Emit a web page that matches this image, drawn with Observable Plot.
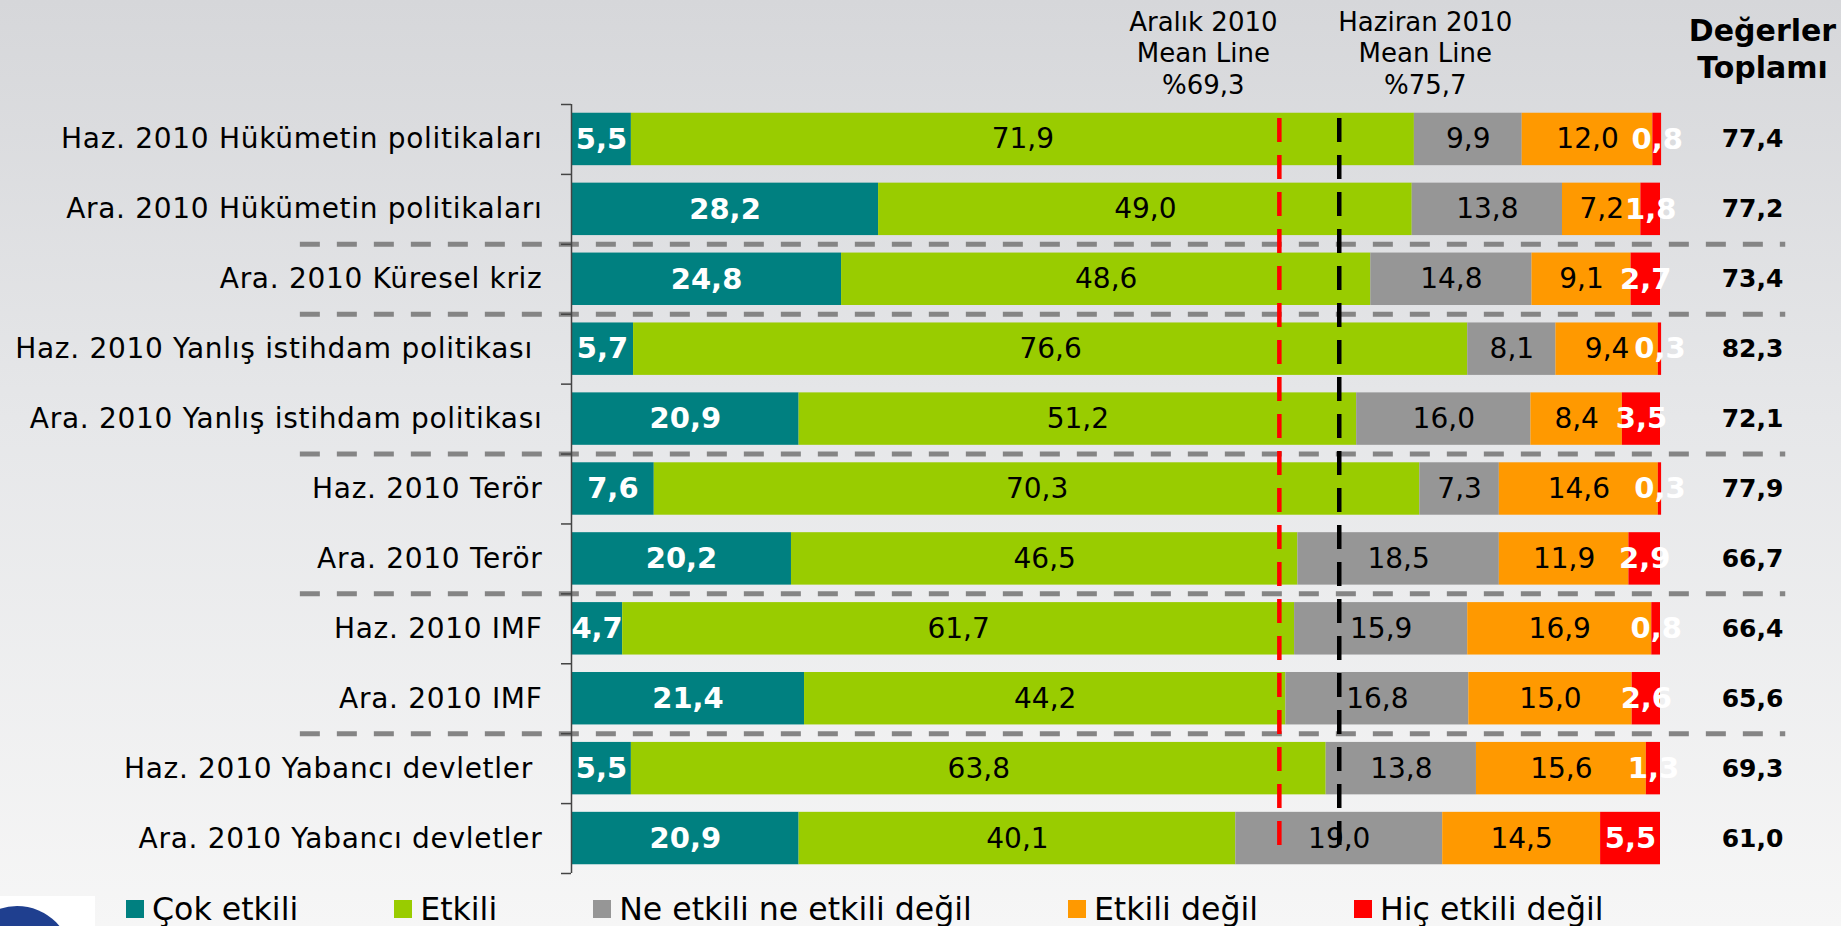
<!DOCTYPE html>
<html><head><meta charset="utf-8">
<script src="https://cdn.jsdelivr.net/npm/d3@7"></script>
<script src="https://cdn.jsdelivr.net/npm/@observablehq/plot@0.6"></script>
<style>
html,body{margin:0;padding:0;width:1841px;height:926px;overflow:hidden;}
body{background:linear-gradient(#d6d7da 0%, #e6e7e9 45%, #f6f6f6 100%);font-family:"DejaVu Sans",sans-serif;position:relative;}
#chart{position:absolute;left:0;top:0;}
#chart svg{background:transparent;}
g[aria-label="y-axis tick label"] text{letter-spacing:0.7px;}
g[aria-label="vals-normal"] text{letter-spacing:2.5px;}
g[aria-label="vals-bold"] text{letter-spacing:1.5px;}
#legend{position:absolute;left:126px;top:894px;font-size:31.6px;line-height:1;white-space:nowrap;color:#000;}
#legend .item{display:inline-block;margin-right:96px;}
#legend .sw{display:inline-block;width:18px;height:18px;margin-right:8px;position:relative;top:-2px;vertical-align:baseline;}
#logo{position:absolute;left:0;top:896px;width:95px;height:30px;background:#fff;overflow:hidden;}
#logo div{position:absolute;left:-38px;top:10px;width:110px;height:110px;border-radius:50%;background:#1f3f8f;}
</style>
</head><body>
<div id="chart"></div>
<div id="logo"><div></div></div>
<div id="legend"></div>
<script>
const categories = [
  "Haz. 2010 Hükümetin politikaları",
  "Ara. 2010 Hükümetin politikaları",
  "Ara. 2010 Küresel kriz",
  "Haz. 2010 Yanlış istihdam politikası\u00A0",
  "Ara. 2010 Yanlış istihdam politikası",
  "Haz. 2010 Terör",
  "Ara. 2010 Terör",
  "Haz. 2010 IMF",
  "Ara. 2010 IMF",
  "Haz. 2010 Yabancı devletler\u00A0",
  "Ara. 2010 Yabancı devletler"
];
const seriesNames = ["Çok etkili", "Etkili", "Ne etkili ne etkili değil", "Etkili değil", "Hiç etkili değil"];
const cokEtkili   = [5.5, 28.2, 24.8, 5.7, 20.9, 7.6, 20.2, 4.7, 21.4, 5.5, 20.9];
const etkili      = [71.9, 49.0, 48.6, 76.6, 51.2, 70.3, 46.5, 61.7, 44.2, 63.8, 40.1];
const neEtkili    = [9.9, 13.8, 14.8, 8.1, 16.0, 7.3, 18.5, 15.9, 16.8, 13.8, 19.0];
const etkiliDegil = [12.0, 7.2, 9.1, 9.4, 8.4, 14.6, 11.9, 16.9, 15.0, 15.6, 14.5];
const hicEtkili   = [0.8, 1.8, 2.7, 0.3, 3.5, 0.3, 2.9, 0.8, 2.6, 1.3, 5.5];
const totals      = [77.4, 77.2, 73.4, 82.3, 72.1, 77.9, 66.7, 66.4, 65.6, 69.3, 61.0];
const totalsHeader = "Değerler\nToplamı";
// mean lines as drawn on the bar scale, with their labels
const meanLineValues = [65.0, 70.5];
const meanLineLabels = ["Aralık 2010\nMean Line\n%69,3", "Haziran 2010\nMean Line\n%75,7"];
// group separators sit above these rows
const separatorBefore = [categories[2], categories[3], categories[5], categories[7], categories[9]];

const colors = ["#008080", "#99cc00", "#969696", "#ff9900", "#ff0000"];
const seriesValues = [cokEtkili, etkili, neEtkili, etkiliDegil, hicEtkili];

const data = [];
categories.forEach((c, i) => {
  seriesNames.forEach((s, j) => data.push({cat: c, series: s, value: seriesValues[j][i]}));
});
const fmt = v => v.toFixed(1).replace(".", ",");
const FONT = "DejaVu Sans";

const W = 1841, H = 926, mTop = 104, mBottom = 53;
const step = (H - mTop - mBottom) / categories.length;
const boldSeries = new Set([seriesNames[0], seriesNames[4]]);

const chart = Plot.plot({
  width: W, height: H,
  marginLeft: 571, marginRight: 181, marginTop: mTop, marginBottom: mBottom,
  style: {background: "transparent", color: "#000", fontFamily: FONT},
  x: {domain: [0, 100], axis: null},
  y: {domain: categories, paddingInner: 0.25, paddingOuter: 0.125, round: false, axis: null},
  color: {domain: seriesNames, range: colors},
  marks: [
    Plot.barX(data, {x: "value", y: "cat", fill: "series", z: "series", order: seriesNames}),
    // group separators
    Plot.ruleY(separatorBefore, {y: d => d, dy: -step / 2, x1: -24.9, x2: 111.5,
      stroke: "#858585", strokeWidth: 5, strokeDasharray: "20,17"}),
    // axis line and ticks at band boundaries
    Plot.ruleX([0], {stroke: "#444", strokeWidth: 1.5}),
    Plot.ruleY(categories, {y: d => d, dy: -step / 2, x1: -0.92, x2: 0, stroke: "#444", strokeWidth: 1.5}),
    Plot.ruleY([categories[categories.length - 1]], {y: d => d, dy: step / 2, x1: -0.92, x2: 0, stroke: "#444", strokeWidth: 1.5}),
    Plot.axisY({tickSize: 0, tickPadding: 29, fontSize: 28, fontFamily: FONT, fill: "#000", label: null}),
    // mean lines
    Plot.ruleX(meanLineValues, {x: d => d, stroke: (d, i) => i === 0 ? "#ff0000" : "#000000",
      strokeWidth: 4.5, strokeDasharray: "24,13", insetTop: 14, insetBottom: 28}),
    Plot.text([meanLineLabels[0]], {x: () => meanLineValues[0], text: d => d, frameAnchor: "top", lineAnchor: "top",
      dx: -76, dy: -96, lineHeight: 1.21, fontSize: 26, fontFamily: FONT, fill: "#000"}),
    Plot.text([meanLineLabels[1]], {x: () => meanLineValues[1], text: d => d, frameAnchor: "top", lineAnchor: "top",
      dx: 86, dy: -96, lineHeight: 1.21, fontSize: 26, fontFamily: FONT, fill: "#000"}),
    // value labels
    Plot.text(data, Plot.stackX({x: "value", y: "cat", z: "series", order: seriesNames,
      text: d => boldSeries.has(d.series) ? null : fmt(d.value),
      fontSize: 28, fontFamily: FONT, fill: "#000", ariaLabel: "vals-normal"})),
    Plot.text(data, Plot.stackX({x: "value", y: "cat", z: "series", order: seriesNames,
      text: d => boldSeries.has(d.series) ? fmt(d.value) : null,
      fontSize: 29, fontWeight: "bold", fontFamily: FONT, fill: "#fff", ariaLabel: "vals-bold"})),
    // totals column
    Plot.text(totals, {y: (d, i) => categories[i], text: d => fmt(d), frameAnchor: "right", textAnchor: "middle", dx: 92,
      fontSize: 25, fontWeight: "bold", fontFamily: FONT, fill: "#000"}),
    Plot.text([totalsHeader], {text: d => d, frameAnchor: "top-right", lineAnchor: "top", textAnchor: "middle",
      dx: 102, dy: -91, lineHeight: 1.267, fontSize: 30, fontWeight: "bold", fontFamily: FONT, fill: "#000"})
  ]
});
document.getElementById("chart").appendChild(chart);

const legend = document.getElementById("legend");
seriesNames.forEach((s, i) => {
  const item = document.createElement("span");
  item.className = "item";
  const sw = document.createElement("span");
  sw.className = "sw";
  sw.style.background = colors[i];
  item.appendChild(sw);
  item.appendChild(document.createTextNode(s));
  legend.appendChild(item);
});
</script>
</body></html>
